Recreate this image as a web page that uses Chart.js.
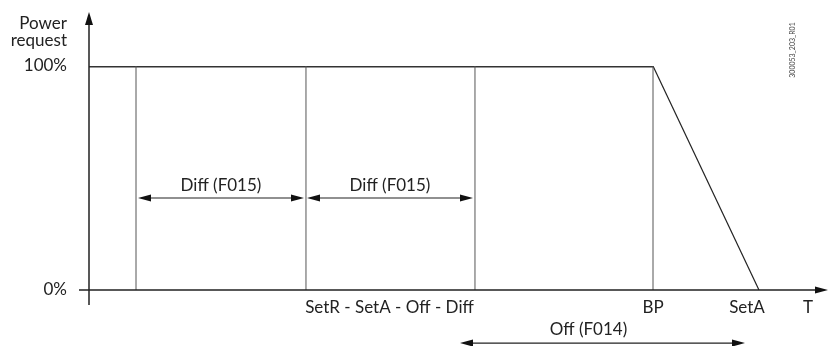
<!DOCTYPE html>
<html>
<head>
<meta charset="utf-8">
<script src="https://cdn.jsdelivr.net/npm/chart.js@4.4.0/dist/chart.umd.min.js"></script>
<style>
  html, body { margin: 0; padding: 0; background: #fff; }
  #wrap { width: 830px; height: 346px; position: relative; }
</style>
</head>
<body>
<div id="wrap"><canvas id="chart"></canvas></div>
<script>
// temperature axis in arbitrary units (0 = origin, 100 = end of T arrow)
const switchPoints = [6.36, 29.36, 52.23];
const bp = 76.32;
const setA = 90.66;
const powerFull = 100;
const yTickValues = [0, 100];
const yTickLabels = ["0%", "100%"];
const xTickValues = [40.66, 76.32, 89.04, 97.29];
const xTickLabels = ["SetR - SetA - Off - Diff", "BP", "SetA", "T"];
const diffSpans = [[6.63, 29.09], [29.5, 51.96]];
const diffLabels = ["Diff (F015)", "Diff (F015)"];
const diffLevel = 41.07;
const offSpan = [50.2, 88.77];
const offLabel = "Off (F014)";
const offLevel = -23.7;

const FONT = "Lato, 'Open Sans', sans-serif";
const INK = "#222";

function arrowHead(ctx, x, y, dir) {
  // dir: 1 = points right, -1 = left, 'up' = points up
  ctx.beginPath();
  if (dir === 'up') {
    ctx.moveTo(x, y);
    ctx.lineTo(x - 4, y + 13);
    ctx.lineTo(x + 4, y + 13);
  } else {
    ctx.moveTo(x, y);
    ctx.lineTo(x - dir * 13, y - 3.5);
    ctx.lineTo(x - dir * 13, y + 3.5);
  }
  ctx.closePath();
  ctx.fill();
}

function dimension(ctx, xa, xb, y) {
  ctx.beginPath();
  ctx.moveTo(xa + 4, y);
  ctx.lineTo(xb - 4, y);
  ctx.stroke();
  arrowHead(ctx, xa, y, -1);
  arrowHead(ctx, xb, y, 1);
}

const decorations = {
  id: 'decorations',
  afterDraw(chart) {
    const { ctx, scales: { x, y } } = chart;
    const x0 = x.getPixelForValue(0);
    const y0 = y.getPixelForValue(0);
    const xEnd = x.getPixelForValue(100);
    ctx.save();
    ctx.strokeStyle = "#222";
    ctx.fillStyle = "#111";
    ctx.lineWidth = 1.5;
    // axes
    ctx.beginPath();
    ctx.moveTo(x0 - 10, y0);
    ctx.lineTo(xEnd - 6, y0);
    ctx.moveTo(x0, y0 + 15);
    ctx.lineTo(x0, 18);
    ctx.stroke();
    arrowHead(ctx, xEnd, y0, 1);
    arrowHead(ctx, x0, 12, 'up');

    // dimension arrows
    ctx.lineWidth = 1.2;
    ctx.font = "17px " + FONT;
    ctx.textAlign = "center";
    ctx.textBaseline = "middle";
    diffSpans.forEach((s, i) => {
      const yy = y.getPixelForValue(diffLevel);
      dimension(ctx, x.getPixelForValue(s[0]), x.getPixelForValue(s[1]), yy);
      ctx.fillStyle = INK;
      ctx.fillText(diffLabels[i], (x.getPixelForValue(s[0]) + x.getPixelForValue(s[1])) / 2, yy - 12);
      ctx.fillStyle = "#111";
    });
    const oy = y.getPixelForValue(offLevel);
    dimension(ctx, x.getPixelForValue(offSpan[0]), x.getPixelForValue(offSpan[1]), oy);
    ctx.fillStyle = INK;
    ctx.fillText(offLabel, (x.getPixelForValue(offSpan[0]) + x.getPixelForValue(offSpan[1])) / 2 - 14, oy - 14);

    // y axis title
    ctx.textAlign = "right";
    ctx.fillText("Power", 67, 24);
    ctx.fillText("request", 67, 41);

    // drawing id
    ctx.save();
    ctx.translate(793, 50);
    ctx.rotate(-Math.PI / 2);
    ctx.textAlign = "center";
    ctx.font = "7px " + FONT;
    ctx.fillStyle = "#444";
    ctx.fillText("300053_203_R01", 0, 0);
    ctx.restore();
    ctx.restore();
  }
};

const verticals = switchPoints.concat([bp]).flatMap(v => [
  { x: v, y: 0 }, { x: v, y: powerFull }, { x: v, y: null }
]);

new Chart(document.getElementById('chart'), {
  type: 'line',
  data: {
    datasets: [
      {
        data: verticals,
        borderColor: "#555",
        borderWidth: 1,
        pointRadius: 0,
        spanGaps: false
      },
      {
        data: [{ x: bp, y: powerFull }, { x: setA, y: 0 }],
        borderColor: "#222",
        borderWidth: 1.2,
        pointRadius: 0
      },
      {
        data: [{ x: 0, y: powerFull }, { x: bp, y: powerFull }],
        borderColor: "#333",
        borderWidth: 3,
        pointRadius: 0
      }
    ]
  },
  options: {
    responsive: true,
    maintainAspectRatio: false,
    animation: false,
    layout: { padding: { top: 66, right: 2, left: 0, bottom: 0 } },
    plugins: { legend: { display: false }, tooltip: { enabled: false } },
    scales: {
      x: {
        type: 'linear',
        min: 0,
        max: 100,
        grid: { display: false, drawTicks: false },
        border: { display: false },
        afterBuildTicks: s => { s.ticks = xTickValues.map(v => ({ value: v })); },
        afterFit: s => { s.height = 56; },
        ticks: {
          autoSkip: false,
          maxRotation: 0,
          padding: 7,
          color: INK,
          font: { family: FONT, size: 17 },
          callback: (v, i) => xTickLabels[i]
        }
      },
      y: {
        type: 'linear',
        min: 0,
        max: 100,
        grid: { display: false, drawTicks: false },
        border: { display: false },
        afterBuildTicks: s => { s.ticks = yTickValues.map(v => ({ value: v })); },
        afterFit: s => { s.width = 89; },
        ticks: {
          padding: 22,
          color: INK,
          font: { family: FONT, size: 17 },
          callback: (v, i) => yTickLabels[i]
        }
      }
    }
  },
  plugins: [decorations]
});
</script>
</body>
</html>
